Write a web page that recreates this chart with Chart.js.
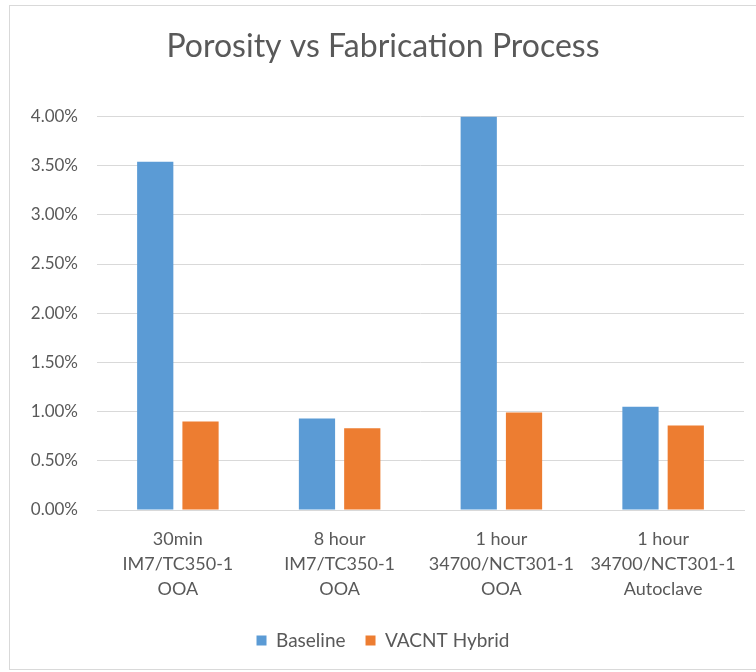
<!DOCTYPE html>
<html>
<head>
<meta charset="utf-8">
<script src="https://cdn.jsdelivr.net/npm/chart.js@4.4.0/dist/chart.umd.min.js"></script>
<style>
  html, body { margin: 0; padding: 0; background: #fff; overflow: hidden; }
  #frame { position: absolute; left: 9px; top: 5px; width: 780px; height: 663px; border: 1px solid #d9d9d9; }
  #wrap { position: absolute; left: 0; top: 0; width: 756px; height: 672px; }
</style>
</head>
<body>
<div id="frame"></div>
<div id="wrap"><canvas id="chart"></canvas></div>
<script>
  // categories (multi-line labels)
  const categories = [
    ['30min', 'IM7/TC350-1', 'OOA'],
    ['8 hour', 'IM7/TC350-1', 'OOA'],
    ['1 hour', '34700/NCT301-1', 'OOA'],
    ['1 hour', '34700/NCT301-1', 'Autoclave']
  ];
  // porosity in percent
  const baseline = [3.54, 0.93, 4.00, 1.05];
  const vacntHybrid = [0.90, 0.83, 0.99, 0.86];
  const yTicks = [0, 0.5, 1, 1.5, 2, 2.5, 3, 3.5, 4];

  const textColor = '#595959';
  const fontFamily = 'Lato, "Liberation Sans", sans-serif';

  new Chart(document.getElementById('chart').getContext('2d'), {
    type: 'bar',
    data: {
      labels: categories,
      datasets: [
        { label: 'Baseline', data: baseline, backgroundColor: '#5b9bd5' },
        { label: 'VACNT Hybrid', data: vacntHybrid, backgroundColor: '#ed7d31' }
      ]
    },
    options: {
      responsive: true,
      maintainAspectRatio: false,
      animation: false,
      datasets: { bar: { categoryPercentage: 0.56, barPercentage: 0.8 } },
      // left padding a bit larger so title/legend sit closer to where the original has them
      layout: { padding: { left: 22, right: 12, top: 0, bottom: 12 } },
      scales: {
        x: {
          grid: { display: false },
          border: { display: true, color: '#d9d9d9' },
          ticks: {
            color: textColor,
            font: { family: fontFamily, size: 18, lineHeight: '25px' },
            padding: 9,
            maxRotation: 0,
            autoSkip: false
          }
        },
        y: {
          min: 0,
          max: 4,
          afterBuildTicks: axis => { axis.ticks = yTicks.map(v => ({ value: v })); },
          afterFit: axis => { axis.width = 75; },
          grid: { color: '#d9d9d9', drawTicks: false },
          border: { display: false },
          ticks: {
            color: textColor,
            font: { family: fontFamily, size: 17 },
            padding: 19,
            callback: v => v.toFixed(2) + '%'
          }
        }
      },
      plugins: {
        title: {
          display: true,
          text: 'Porosity vs Fabrication Process',
          color: textColor,
          font: { family: fontFamily, size: 32, weight: 'normal' },
          padding: { top: 27, bottom: 51 }
        },
        legend: {
          position: 'bottom',
          labels: { color: textColor, font: { family: fontFamily, size: 19 }, boxWidth: 10, boxHeight: 10, padding: 20 }
        },
        tooltip: { enabled: false }
      }
    }
  });
</script>
</body>
</html>
